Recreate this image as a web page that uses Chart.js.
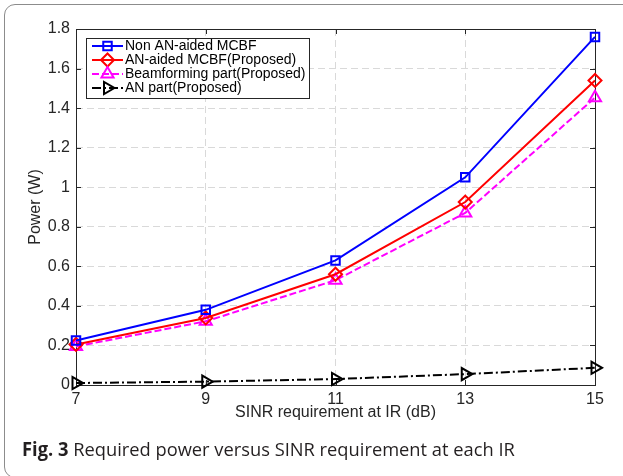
<!DOCTYPE html>
<html>
<head>
<meta charset="utf-8">
<title>Required power vs SINR</title>
<script src="https://cdn.jsdelivr.net/npm/chart.js@4.4.1/dist/chart.umd.min.js"></script>
<style>
  body { margin: 0; background: #fff; overflow: hidden; }
  #fig { position: relative; width: 623px; height: 476px; overflow: hidden; background: #fff; }
  #frame { position: absolute; left: 4px; top: 4px; width: 680px; height: 474px;
           border: 1.5px solid #8c8c8c; border-radius: 11px; box-sizing: border-box; }
  #plot { position: absolute; left: 0; top: 0; }
  #caption { position: absolute; left: 22px; top: 436px; font-family: "Open Sans", sans-serif;
             font-size: 19px; color: #231f20; white-space: nowrap;
             transform-origin: left top; transform: scaleX(0.963); }
  #caption b { font-weight: 700; }
</style>
</head>
<body>
<div id="fig">
  <div id="frame"></div>
  <canvas id="plot" width="623" height="476"></canvas>
  <div id="caption"><b>Fig. 3</b> Required power versus SINR requirement at each IR</div>
</div>
<script>
const sinrLabels = ['7', '9', '11', '13', '15'];
const powerTicks = [0, 0.2, 0.4, 0.6, 0.8, 1, 1.2, 1.4, 1.6, 1.8];
const powerTickLabels = ['0', '0.2', '0.4', '0.6', '0.8', '1', '1.2', '1.4', '1.6', '1.8'];

const nonAnMcbf = [0.225, 0.38, 0.63, 1.05, 1.76];
const anAidedMcbf = [0.205, 0.339, 0.56, 0.925, 1.54];
const beamformingPart = [0.195, 0.322, 0.53, 0.87, 1.453];
const anPart = [0.01, 0.017, 0.03, 0.055, 0.087];

const seriesNames = [
  'Non AN-aided MCBF',
  'AN-aided MCBF(Proposed)',
  'Beamforming part(Proposed)',
  'AN part(Proposed)'
];

const axisFont = { family: '"Liberation Sans", Arial, sans-serif', size: 16 };
const textColor = '#262626';

function series(label, data, color, style, radius, dash, rotation) {
  return {
    label,
    data,
    borderColor: color,
    backgroundColor: 'rgba(0,0,0,0)',
    borderWidth: 2,
    borderDash: dash,
    pointStyle: style,
    pointRotation: rotation || 0,
    pointRadius: radius,
    pointHoverRadius: radius,
    pointBorderWidth: 2,
    pointBorderColor: color,
    pointBackgroundColor: 'rgba(0,0,0,0)',
    tension: 0,
    clip: false
  };
}

// black frame with inward ticks on all four sides
const axesBox = {
  id: 'axesBox',
  beforeDatasetsDraw(chart) {
    const { ctx, chartArea: a, scales } = chart;
    const len = 5;
    ctx.save();
    ctx.strokeStyle = '#262626';
    ctx.lineWidth = 1;
    ctx.setLineDash([]);
    ctx.beginPath();
    for (let i = 0; i < sinrLabels.length; i++) {
      const x = Math.round(scales.x.getPixelForValue(i)) + 0.5;
      ctx.moveTo(x, a.bottom); ctx.lineTo(x, a.bottom - len);
      ctx.moveTo(x, a.top); ctx.lineTo(x, a.top + len);
    }
    for (const v of powerTicks) {
      const y = Math.round(scales.y.getPixelForValue(v)) + 0.5;
      ctx.moveTo(a.left, y); ctx.lineTo(a.left + len, y);
      ctx.moveTo(a.right, y); ctx.lineTo(a.right - len, y);
    }
    ctx.stroke();
    ctx.strokeRect(Math.round(a.left) + 0.5, Math.round(a.top) + 0.5,
                   Math.round(a.right - a.left), Math.round(a.bottom - a.top));
    ctx.restore();
  }
};

// boxed legend in the upper left corner of the axes
const boxLegend = {
  id: 'boxLegend',
  afterDraw(chart) {
    const { ctx, chartArea: a } = chart;
    const x0 = a.left + 10, y0 = a.top + 9;
    const w = 223, h = 60, row = 14;
    ctx.save();
    ctx.fillStyle = '#fff';
    ctx.fillRect(x0, y0, w, h);
    ctx.strokeStyle = '#262626';
    ctx.lineWidth = 1;
    ctx.strokeRect(x0 + 0.5, y0 + 0.5, w, h);
    chart.data.datasets.forEach((ds, i) => {
      const y = y0 + 8 + i * row;
      ctx.strokeStyle = ds.borderColor;
      ctx.lineWidth = 2;
      ctx.setLineDash(ds.borderDash || []);
      ctx.beginPath();
      ctx.moveTo(x0 + 6, y);
      ctx.lineTo(x0 + 37, y);
      ctx.stroke();
      ctx.setLineDash([]);
      ctx.lineWidth = ds.pointBorderWidth;
      ctx.fillStyle = 'rgba(0,0,0,0)';
      Chart.helpers.drawPoint(ctx, {
        pointStyle: ds.pointStyle,
        rotation: ds.pointRotation,
        radius: ds.pointRadius,
        borderWidth: ds.pointBorderWidth
      }, x0 + 21.5, y);
      ctx.fillStyle = '#000';
      ctx.font = '14px "Liberation Sans", Arial, sans-serif';
      ctx.textBaseline = 'middle';
      ctx.fillText(ds.label, x0 + 39, y + 0.5);
    });
    ctx.restore();
  }
};

new Chart(document.getElementById('plot'), {
  type: 'line',
  data: {
    labels: sinrLabels,
    datasets: [
      series(seriesNames[0], nonAnMcbf, '#0000ff', 'rect', 6, []),
      series(seriesNames[1], anAidedMcbf, '#ff0000', 'rectRot', 6.5, []),
      series(seriesNames[2], beamformingPart, '#ff00ff', 'triangle', 7, [7, 3]),
      series(seriesNames[3], anPart, '#000000', 'triangle', 7, [9, 3, 2, 3], 90)
    ]
  },
  options: {
    responsive: false,
    animation: false,
    events: [],
    layout: { padding: { left: 26, top: 29, right: 28, bottom: 54 } },
    plugins: {
      legend: { display: false },
      tooltip: { enabled: false }
    },
    scales: {
      x: {
        type: 'category',
        offset: false,
        grid: { color: '#d9d9d9', lineWidth: 1, drawTicks: false },
        border: { display: false, dash: [7, 4] },
        ticks: { color: textColor, font: axisFont, padding: 5, maxRotation: 0 },
        title: { display: true, text: 'SINR requirement at IR (dB)', color: textColor,
                 font: axisFont, padding: 0 },
        afterFit(scale) { scale.height = 37; }
      },
      y: {
        type: 'linear',
        min: 0,
        max: 1.8,
        afterBuildTicks(scale) { scale.ticks = powerTicks.map(v => ({ value: v })); },
        grid: { color: '#d9d9d9', lineWidth: 1, drawTicks: false },
        border: { display: false, dash: [7, 4] },
        ticks: { color: textColor, font: axisFont, padding: 6,
                 callback: (v, i) => powerTickLabels[i] },
        title: { display: true, text: 'Power (W)', color: textColor, font: axisFont, padding: 0 },
        afterFit(scale) { scale.width = 50; }
      }
    }
  },
  plugins: [axesBox, boxLegend]
});
</script>
</body>
</html>
